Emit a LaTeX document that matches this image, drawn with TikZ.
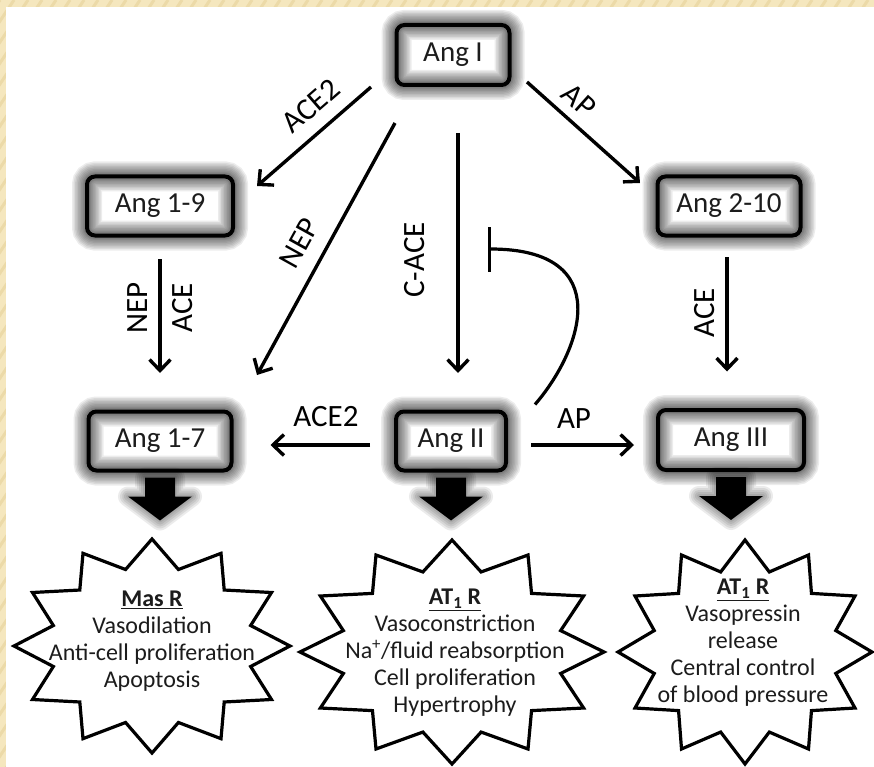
\documentclass[tikz,border=0pt]{standalone}
\usepackage{fontspec}
\setmainfont{Carlito}
\usetikzlibrary{arrows.meta,calc}
\definecolor{parch}{RGB}{245,231,190}
\definecolor{parchd}{RGB}{236,218,168}
\definecolor{txt}{RGB}{28,28,28}
\tikzset{
  glowlayer/.style={preaction={draw=black, draw opacity=0.075, line width=#1}},
  angbox/.style={rectangle, rounded corners=8pt, draw=black, line width=4pt, text=txt, inner sep=0pt,
    font=\fontsize{29}{32}\selectfont,
    preaction={fill=white},
    glowlayer=30pt, glowlayer=27pt, glowlayer=24pt, glowlayer=21pt,
    glowlayer=18pt, glowlayer=15pt, glowlayer=12pt, glowlayer=9pt, glowlayer=7pt},
  lab/.style={font=\fontsize{31}{33}\selectfont, text=black, inner sep=0pt},
  arr/.style={line width=3.4pt, -{Straight Barb[length=11pt,width=21pt]}},
  inh/.style={line width=3.2pt, -{Bar[width=45pt]}},
  fatglow/.style={preaction={draw=black, draw opacity=0.08, line width=#1, line join=round}},
  fatarr/.style={fill=black, fatglow=20pt, fatglow=16pt, fatglow=12pt, fatglow=8pt, fatglow=4pt},
  starline/.style={draw=black, line width=3.2pt, fill=white, line join=miter},
  startext/.style={align=center, text=txt, inner sep=0pt, font=\fontsize{24}{27}\selectfont}
}
\newcommand\FatDown[1]{%
  \path[fatarr] ($(#1.south)+(-15,5)$) -- ++(0,19) -- ++(-17,0) -- ++(32,24) -- ++(32,-24) -- ++(-17,0) -- ++(0,-19) -- cycle;}
\newcommand\StarShape[4]{%
  \draw[starline] plot[samples at={0,...,23}]
    ({#1+#3*(isodd(\x)?0.74:1)*cos(90+15*\x)},{#2+#4*(isodd(\x)?0.74:1)*sin(90+15*\x)}) -- cycle;}
\begin{document}
\begin{tikzpicture}[x=1pt,y=-1pt]
\useasboundingbox (0,0) rectangle (874,767);
% background
\fill[parch] (0,0) rectangle (874,767);
\begin{scope}
  \clip (0,0) rectangle (874,7) (0,0) rectangle (6,767);
  \foreach \i in {0,14,...,1400} {\draw[parchd, line width=3pt] (\i,0) -- ++(-520,780);}
\end{scope}
\fill[white] (6,7) rectangle (874,767);

% boxes
\node[angbox, minimum width=113pt, minimum height=60pt] (angI) at (453,55) {Ang I};
\node[angbox, minimum width=146pt, minimum height=59pt] (ang19) at (160,206) {Ang 1-9};
\node[angbox, minimum width=143pt, minimum height=59pt] (ang210) at (729,206) {Ang 2-10};
\node[angbox, minimum width=143pt, minimum height=59pt] (ang17) at (160,441) {Ang 1-7};
\node[angbox, minimum width=110pt, minimum height=59pt] (angII) at (451,441) {Ang II};
\node[angbox, minimum width=146pt, minimum height=60pt] (angIII) at (731,440) {Ang III};

% connectors
\draw[arr] ($(angI.south west)+(-23.5,0)$) -- ($(ang19.north east)+(22,11.5)$);
\draw[arr] ($(angI.south west)+(0.5,36)$) -- ($(ang17.north east)+(23.5,-34.5)$);
\draw[arr] ($(angI.south)+(5,46)$) -- ($(angII.north)+(7,-36.5)$);
\draw[arr] ($(angI.south east)+(15.5,-5)$) -- ($(ang210.north west)+(-15.5,8.5)$);
\draw[arr] ($(ang19.south)+(0,21.5)$) -- ($(ang17.north)+(0,-36.5)$);
\draw[arr] ($(ang210.south)+(-2,19.5)$) -- ($(angIII.north)+(-4,-36.5)$);
\draw[arr] ($(angII.west)+(-24,4)$) -- ($(ang17.east)+(37,4)$);
\draw[arr] ($(angII.east)+(23,4)$) -- ($(angIII.west)+(-22,5)$);

% inhibition
\coordinate (inhs) at ($(angII.north east)+(27,-5)$);
\coordinate (inhe) at (488,249);
\draw[inh] (inhs) .. controls (582,350) and (617,249) .. (inhe);

% labels
\node[lab, rotate=41] (lACE2a) at (311,106) {ACE2};
\node[lab, rotate=61] (lNEPa) at (299,243) {NEP};
\node[lab, rotate=90] (lCACE) at (415,260) {C-ACE};
\node[lab, rotate=-42] (lAPa) at (579,100) {AP};
\node[lab, rotate=90] (lNEPb) at (138,308) {NEP};
\node[lab, rotate=90] (lACEb) at (183,308) {ACE};
\node[lab, rotate=90] (lACEc) at (705,313) {ACE};
\node[lab] (lACE2b) at (326,417) {ACE2};
\node[lab] (lAPb) at (574,419) {AP};

% fat arrows
\FatDown{ang17}
\FatDown{angII}
\FatDown{angIII}

% stars
\StarShape{152}{646}{138}{107}
\StarShape{452}{652}{152}{112}
\StarShape{745}{652}{127}{112}

\node[startext] (tmas) at (152,641) {\underline{\textbf{Mas R}}\\Vasodilation\\Anti-cell proliferation\\Apoptosis};
\node[startext] (tat1a) at (455,653) {\underline{\textbf{AT\textsubscript{1} R}}\\Vasoconstriction\\Na\textsuperscript{+}/fluid reabsorption\\Cell proliferation\\Hypertrophy};
\node[startext] (tat1b) at (743,643) {\underline{\textbf{AT\textsubscript{1} R}}\\Vasopressin\\release\\Central control\\of blood pressure};
\end{tikzpicture}
\end{document}
